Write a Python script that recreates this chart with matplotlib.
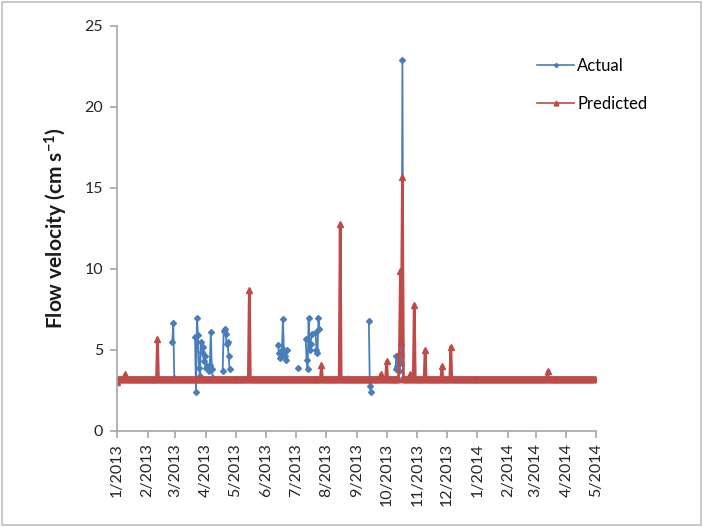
import numpy as np
import pandas as pd
import matplotlib
matplotlib.use("Agg")
import matplotlib.pyplot as plt
import matplotlib.dates as mdates
from matplotlib.patches import Rectangle

plt.rcParams['font.family'] = ['Lato', 'DejaVu Sans']
plt.rcParams['mathtext.default'] = 'regular'

# datos ------------------------------------------------------------------
inicio = "2013-01-01"
fin = "2014-04-30"

# Predicted: nivel base diario y picos (fecha, valor)
base_predicho = 3.2
pico_fechas = ["2013-01-01", "2013-01-09", "2013-02-11", "2013-05-15", "2013-07-27",
               "2013-08-15", "2013-09-25", "2013-10-01", "2013-10-14", "2013-10-15",
               "2013-10-16", "2013-10-17", "2013-10-25", "2013-10-29", "2013-11-09",
               "2013-11-26", "2013-12-05", "2014-03-13"]
pico_valores = [3.0, 3.5, 5.7, 8.7, 4.1,
                12.8, 3.5, 4.3, 4.8, 9.9,
                5.5, 15.7, 3.5, 7.8, 5.0,
                4.0, 5.2, 3.7]

# Actual: solo los dias con medida (tramos)
actual_fechas = [
    "2013-02-26", "2013-02-27", "2013-02-28",
    "2013-03-21", "2013-03-22", "2013-03-23", "2013-03-24", "2013-03-25", "2013-03-26",
    "2013-03-27", "2013-03-28", "2013-03-29", "2013-03-30", "2013-03-31", "2013-04-01",
    "2013-04-02", "2013-04-03", "2013-04-04", "2013-04-05", "2013-04-06", "2013-04-07",
    "2013-04-08",
    "2013-04-18", "2013-04-19", "2013-04-20", "2013-04-21", "2013-04-22", "2013-04-23",
    "2013-04-24", "2013-04-25",
    "2013-06-13", "2013-06-14", "2013-06-15", "2013-06-16", "2013-06-17", "2013-06-18",
    "2013-06-19", "2013-06-20", "2013-06-21", "2013-06-22",
    "2013-07-03",
    "2013-07-11", "2013-07-12", "2013-07-13", "2013-07-14", "2013-07-15", "2013-07-16",
    "2013-07-17",
    "2013-07-21", "2013-07-22", "2013-07-23", "2013-07-24", "2013-07-25",
    "2013-09-13", "2013-09-14", "2013-09-15",
    "2013-10-10", "2013-10-11", "2013-10-12", "2013-10-13", "2013-10-14", "2013-10-15",
    "2013-10-16", "2013-10-17", "2013-10-18"]
actual_valores = [
    5.5, 6.65, 3.3,
    5.8, 2.4, 7.0, 5.9, 3.9, 3.4,
    5.5, 4.9, 5.2, 4.3, 4.6, 3.9,
    4.0, 3.8, 3.7, 4.1, 6.1, 3.8,
    3.3,
    3.7, 6.2, 6.3, 6.0, 5.4, 5.5,
    4.6, 3.8,
    5.3, 4.8, 4.5, 4.7, 5.0, 6.9,
    5.0, 4.6, 4.4, 5.0,
    3.9,
    5.7, 4.4, 3.8, 6.95, 5.0, 5.4,
    6.0,
    6.1, 5.0, 4.8, 6.95, 6.3,
    6.8, 2.8, 2.4,
    3.8, 4.6, 4.0, 4.4, 3.7, 4.2,
    4.7, 22.9, 3.3]

etiquetas_y = [0, 5, 10, 15, 20, 25]

# series diarias ---------------------------------------------------------
dias = pd.date_range(inicio, fin, freq="D")
predicho = pd.Series(base_predicho, index=dias)
predicho[pd.to_datetime(pico_fechas)] = pico_valores
actual = pd.Series(actual_valores, index=pd.to_datetime(actual_fechas)).reindex(dias)

# grafica ----------------------------------------------------------------
fig = plt.figure(figsize=(7.03, 5.27), dpi=100)
ax = fig.add_axes([0.1664, 0.1822, 0.6814, 0.7685])

azul = "#4a7ebb"
rojo = "#be4b48"
ax.plot(actual.index, actual.values, color=azul, lw=1.3, marker="D", ms=3,
        label="Actual")
ax.plot(predicho.index, predicho.values, color=rojo, lw=2, marker="^", ms=5,
        label="Predicted")

ax.set_ylim(0, 25)
ax.set_yticks(etiquetas_y)
ax.set_xlim(pd.Timestamp("2013-01-01"), pd.Timestamp("2014-05-01"))
ax.xaxis.set_major_locator(mdates.MonthLocator())
ax.xaxis.set_major_formatter(
    plt.FuncFormatter(lambda v, p: "%d/%d" % (mdates.num2date(v).month, mdates.num2date(v).year)))
plt.setp(ax.get_xticklabels(), rotation=90)

for s in ["top", "right"]:
    ax.spines[s].set_visible(False)
for s in ["left", "bottom"]:
    ax.spines[s].set_color("#a6a6a6")
    ax.spines[s].set_linewidth(1.2)
ax.tick_params(axis="both", colors="#a6a6a6", length=5, width=1.2, labelsize=11.5,
               labelcolor="#262626")
ax.tick_params(axis="y", pad=5)

ax.set_ylabel(r"Flow velocity (cm s$^{-1}$)", fontsize=15, fontweight="bold",
              color="#1a1a1a", labelpad=10)

leg = ax.legend(loc="upper left", bbox_to_anchor=(0.743, 0.918), bbox_transform=fig.transFigure,
                frameon=False, fontsize=12, handlelength=2.2, labelspacing=1.3,
                handletextpad=0.2, markerscale=0.7)
for h in leg.get_lines():
    h.set_linewidth(1.2)

fig.patches.append(Rectangle((0.003, 0.004), 0.994, 0.992, transform=fig.transFigure,
                             fill=False, edgecolor="#bfbfbf", lw=1.2))

fig.savefig("out.png", dpi=100)
